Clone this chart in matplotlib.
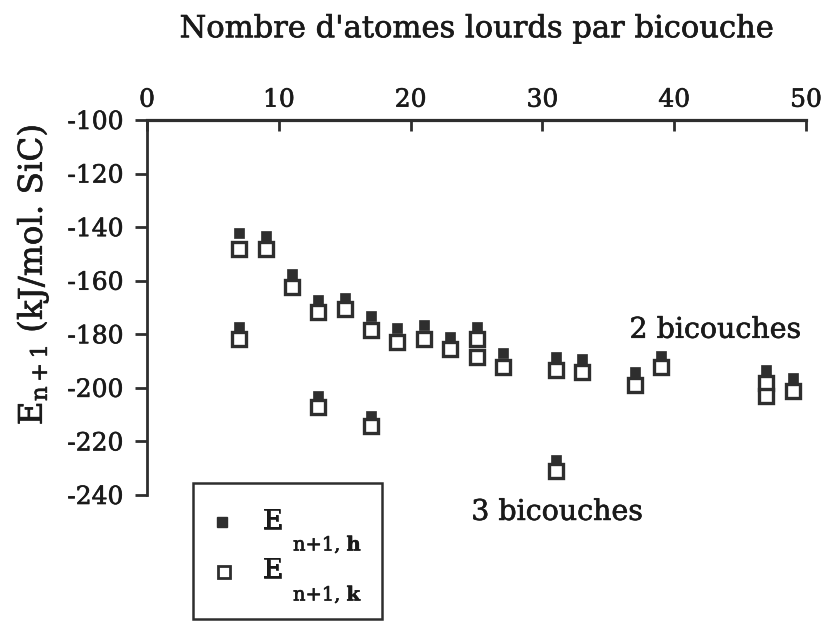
import matplotlib
matplotlib.use("Agg")
import matplotlib.pyplot as plt
import matplotlib.patheffects as pe
from matplotlib.lines import Line2D
from matplotlib.patches import Rectangle

plt.rcParams["font.family"] = ["DejaVu Serif"]
plt.rcParams["mathtext.fontset"] = "dejavuserif"
plt.rcParams["axes.unicode_minus"] = False

# Number of heavy atoms per bilayer and the two energies (kJ/mol SiC)
x_h = [7, 9, 11, 13, 15, 17, 19, 21, 23, 25, 27, 31, 33, 37, 39, 47, 49,
       7, 13, 17, 31]
e_h = [-142.3, -143.2, -157.6, -167.2, -166.3, -173.1, -177.7, -176.5,
       -180.9, -177.1, -187.1, -188.3, -189.3, -194.1, -188.1, -193.5, -196.4,
       -177.4, -203.2, -210.4, -227.1]

x_k = [7, 9, 11, 13, 15, 17, 19, 21, 23, 25, 25, 27, 31, 33, 37, 39, 47, 47, 49,
       7, 13, 17, 31]
e_k = [-148.2, -148.2, -162.2, -171.5, -170.6, -178.4, -182.7, -181.8,
       -185.6, -181.8, -188.3, -192.1, -193.3, -193.9, -198.9, -192.1,
       -198.2, -203.2, -201.0,
       -181.7, -207.0, -214.4, -231.2]

x_ticks = [0, 10, 20, 30, 40, 50]
y_ticks = [-100, -120, -140, -160, -180, -200, -220, -240]

ink = "#2e2e2e"
txt = "#1a1a1a"
heavy = [pe.withStroke(linewidth=0.45, foreground=txt)]
W, H = 825, 621
fig = plt.figure(figsize=(W / 100, H / 100), dpi=100)
ax = fig.add_axes([147 / W, 1 - 495 / H, (806 - 147) / W, (495 - 120) / H])

ax.plot(x_h, e_h, ls="none", marker="s", ms=7.3, mfc=ink, mec=ink, mew=0.5,
        zorder=3)
ax.plot(x_k, e_k, ls="none", marker="s", ms=9.4, mfc="white", mec=ink,
        mew=2.4, zorder=4)

ax.set_xlim(0, 50)
ax.set_ylim(-240, -100)
ax.set_xticks(x_ticks)
ax.set_yticks(y_ticks)
ax.xaxis.tick_top()
ax.xaxis.set_label_position("top")
ax.tick_params(axis="x", direction="in", length=8, width=2, pad=6,
               labelsize=18, colors=ink, labelcolor=txt)
ax.tick_params(axis="y", direction="out", length=9, width=2, pad=8,
               labelsize=18, colors=ink, labelcolor=txt)
for lab in ax.get_xticklabels() + ax.get_yticklabels():
    lab.set_path_effects(heavy)
for side in ("right", "bottom"):
    ax.spines[side].set_visible(False)
ax.spines["top"].set_linewidth(2.3)
ax.spines["left"].set_linewidth(2.0)
ax.spines["top"].set_color(ink)
ax.spines["left"].set_color(ink)

ax.set_xlabel("Nombre d'atomes lourds par bicouche", fontsize=22,
              labelpad=37, color=txt, path_effects=heavy)
ax.set_ylabel(r"E$_{\rm n+1}$ (kJ/mol. SiC)", fontsize=23.5, color=txt,
              path_effects=heavy)
ax.yaxis.set_label_coords(-0.146, 0.587)

ax.text(49.6, -178.5, "2 bicouches", fontsize=20.5, ha="right", va="center",
        color=txt, path_effects=heavy)
ax.text(24.6, -246.5, "3 bicouches", fontsize=20.5, ha="left", va="center",
        color=txt, clip_on=False, path_effects=heavy)


# Legend box drawn in figure pixel coordinates
def fx(px):
    return px / W


def fy(py):
    return 1 - py / H


fig.patches.append(Rectangle((fx(193), fy(619)), fx(382) - fx(193),
                             fy(483) - fy(619), transform=fig.transFigure,
                             fill=False, ec=ink, lw=1.8))
fig.lines.append(Line2D([fx(222)], [fy(522)], transform=fig.transFigure,
                        marker="s", ms=6.5, mfc=ink, mec=ink, ls="none"))
fig.lines.append(Line2D([fx(224)], [fy(572)], transform=fig.transFigure,
                        marker="s", ms=8.5, mfc="white", mec=ink, mew=2,
                        ls="none"))
for y_e, y_s, sub in ((521, 545, r"n+1, $\mathbf{h}$"),
                      (570, 595, r"n+1, $\mathbf{k}$")):
    fig.text(fx(263), fy(y_e), "E", fontsize=19.5, va="center", ha="left",
             color=txt, path_effects=heavy)
    fig.text(fx(293), fy(y_s), sub, fontsize=14, va="center", ha="left",
             color=txt, path_effects=heavy)

fig.savefig("out.png", dpi=100)
